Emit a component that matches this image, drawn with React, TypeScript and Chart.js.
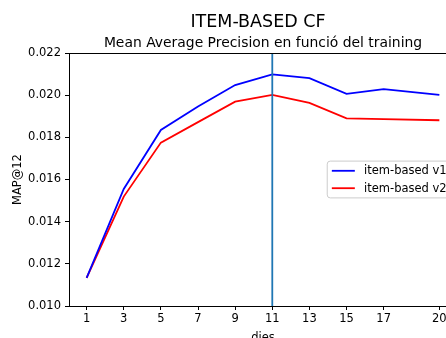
import React, { useEffect, useRef } from 'react';
import { Chart, registerables } from 'chart.js';

Chart.register(...registerables);

const days = [1, 3, 5, 7, 9, 11, 13, 15, 17, 20];
const mapV1 = [0.01133, 0.01555, 0.01835, 0.01946, 0.02048, 0.02099, 0.02081, 0.02006, 0.02029, 0.02001];
const mapV2 = [0.01133, 0.01519, 0.01775, 0.01872, 0.01969, 0.02001, 0.01963, 0.0189, 0.01886, 0.01881];
const seriesLabels = ['item-based v1', 'item-based v2'];
const seriesColors = ['#0000ff', '#ff0000'];
const xTicks = [1, 3, 5, 7, 9, 11, 13, 15, 17, 20];
const yMin = 0.01;
const yMax = 0.022;
const yStep = 0.002;
const markerDay = 11;
const suptitle = 'ITEM-BASED CF';
const subtitle = 'Mean Average Precision en funció del training';
const xLabel = 'dies';
const yLabel = 'MAP@12';

const FONT = '"DejaVu Sans"';
const TICK_SIZE = 11.5;

const decorPlugin = {
  id: 'decor',
  afterDraw(chart: any) {
    const { ctx, chartArea: a } = chart;
    ctx.save();
    // top & right spines
    ctx.strokeStyle = '#000';
    ctx.lineWidth = 1;
    ctx.beginPath();
    ctx.moveTo(a.left, a.top + 0.5);
    ctx.lineTo(a.right, a.top + 0.5);
    ctx.lineTo(a.right, a.bottom);
    ctx.stroke();

    // titles
    const cx = (a.left + a.right) / 2;
    ctx.fillStyle = '#000';
    ctx.textAlign = 'center';
    ctx.textBaseline = 'alphabetic';
    ctx.font = `17.5px ${FONT}`;
    ctx.fillText(suptitle, cx - 5, a.top - 26);
    ctx.font = `13.9px ${FONT}`;
    ctx.fillText(subtitle, cx, a.top - 6.5);

    // legend
    const fs = TICK_SIZE;
    ctx.font = `${fs}px ${FONT}`;
    const textW = Math.max(...seriesLabels.map((l) => ctx.measureText(l).width));
    const pad = 0.4 * fs;
    const handle = 2 * fs;
    const gap = 0.8 * fs;
    const w = pad + handle + gap + textW + pad;
    const rowH = 17.4;
    const h = rowH * seriesLabels.length + 2;
    const right = a.right - 0.5 * fs;
    const left = right - w;
    const cy = (a.top + a.bottom) / 2;
    const top = cy - h / 2;
    const r = 3;
    ctx.beginPath();
    ctx.moveTo(left + r, top);
    ctx.lineTo(right - r, top);
    ctx.quadraticCurveTo(right, top, right, top + r);
    ctx.lineTo(right, top + h - r);
    ctx.quadraticCurveTo(right, top + h, right - r, top + h);
    ctx.lineTo(left + r, top + h);
    ctx.quadraticCurveTo(left, top + h, left, top + h - r);
    ctx.lineTo(left, top + r);
    ctx.quadraticCurveTo(left, top, left + r, top);
    ctx.closePath();
    ctx.fillStyle = 'rgba(255,255,255,0.8)';
    ctx.fill();
    ctx.strokeStyle = '#cccccc';
    ctx.lineWidth = 1;
    ctx.stroke();
    seriesLabels.forEach((label, i) => {
      const y = cy + (i - (seriesLabels.length - 1) / 2) * rowH;
      ctx.strokeStyle = seriesColors[i];
      ctx.lineWidth = 1.8;
      ctx.beginPath();
      ctx.moveTo(left + pad, y);
      ctx.lineTo(left + pad + handle, y);
      ctx.stroke();
      ctx.fillStyle = '#000';
      ctx.textAlign = 'left';
      ctx.textBaseline = 'middle';
      ctx.fillText(label, left + pad + handle + gap, y + 0.5);
    });
    ctx.restore();
  },
};

export default function App() {
  const ref = useRef<HTMLCanvasElement | null>(null);
  useEffect(() => {
    const canvas = ref.current;
    if (!canvas) return;
    const tickFont = { family: FONT, size: TICK_SIZE };
    const chart = new Chart(canvas, {
      type: 'line',
      data: {
        datasets: [
          {
            label: 'marker',
            data: [
              { x: markerDay, y: yMin - 0.001 },
              { x: markerDay, y: yMax + 0.001 },
            ],
            borderColor: '#1f77b4',
            borderWidth: 1.8,
            pointRadius: 0,
            order: 0,
          },
          ...seriesLabels.map((label, i) => ({
            label,
            data: days.map((d, j) => ({ x: d, y: (i === 0 ? mapV1 : mapV2)[j] })),
            borderColor: seriesColors[i],
            borderWidth: 1.8,
            pointRadius: 0,
            tension: 0,
            fill: false,
            order: 1,
          })),
        ],
      },
      options: {
        animation: false,
        responsive: false,
        devicePixelRatio: 1,
        layout: { padding: { top: 53, left: 0, right: 0, bottom: 0 } },
        plugins: {
          legend: { display: false },
          tooltip: { enabled: false },
          title: { display: false },
        },
        scales: {
          x: {
            type: 'linear',
            min: 0.05,
            max: 20.95,
            afterBuildTicks: (scale: any) => {
              scale.ticks = xTicks.map((v) => ({ value: v }));
            },
            afterFit: (scale: any) => {
              scale.height = 39;
            },
            ticks: {
              font: tickFont,
              color: '#000',
              padding: 2,
              autoSkip: false,
              maxRotation: 0,
              callback: (v: any) => String(v),
            },
            grid: {
              drawOnChartArea: false,
              drawTicks: true,
              tickLength: 4,
              tickColor: '#000',
              tickWidth: 1,
            },
            border: { display: true, color: '#000', width: 1 },
            title: {
              display: true,
              text: xLabel,
              color: '#000',
              font: tickFont,
              padding: { top: 0, bottom: 0 },
            },
          },
          y: {
            type: 'linear',
            min: yMin,
            max: yMax,
            afterFit: (scale: any) => {
              scale.width = 69;
            },
            ticks: {
              stepSize: yStep,
              font: tickFont,
              color: '#000',
              padding: 4,
              callback: (v: any) => Number(v).toFixed(3),
            },
            grid: {
              drawOnChartArea: false,
              drawTicks: true,
              tickLength: 4,
              tickColor: '#000',
              tickWidth: 1,
            },
            border: { display: true, color: '#000', width: 1 },
            title: {
              display: true,
              text: yLabel,
              color: '#000',
              font: tickFont,
              padding: { top: 11.5, bottom: 0 },
            },
          },
        },
      },
      plugins: [decorPlugin],
    });
    return () => chart.destroy();
  }, []);

  return (
    <div
      style={{
        position: 'fixed',
        left: 0,
        top: 0,
        width: 446,
        height: 338,
        overflow: 'hidden',
        background: '#fff',
      }}
    >
      <canvas ref={ref} width={457} height={345} style={{ display: 'block' }} />
    </div>
  );
}
